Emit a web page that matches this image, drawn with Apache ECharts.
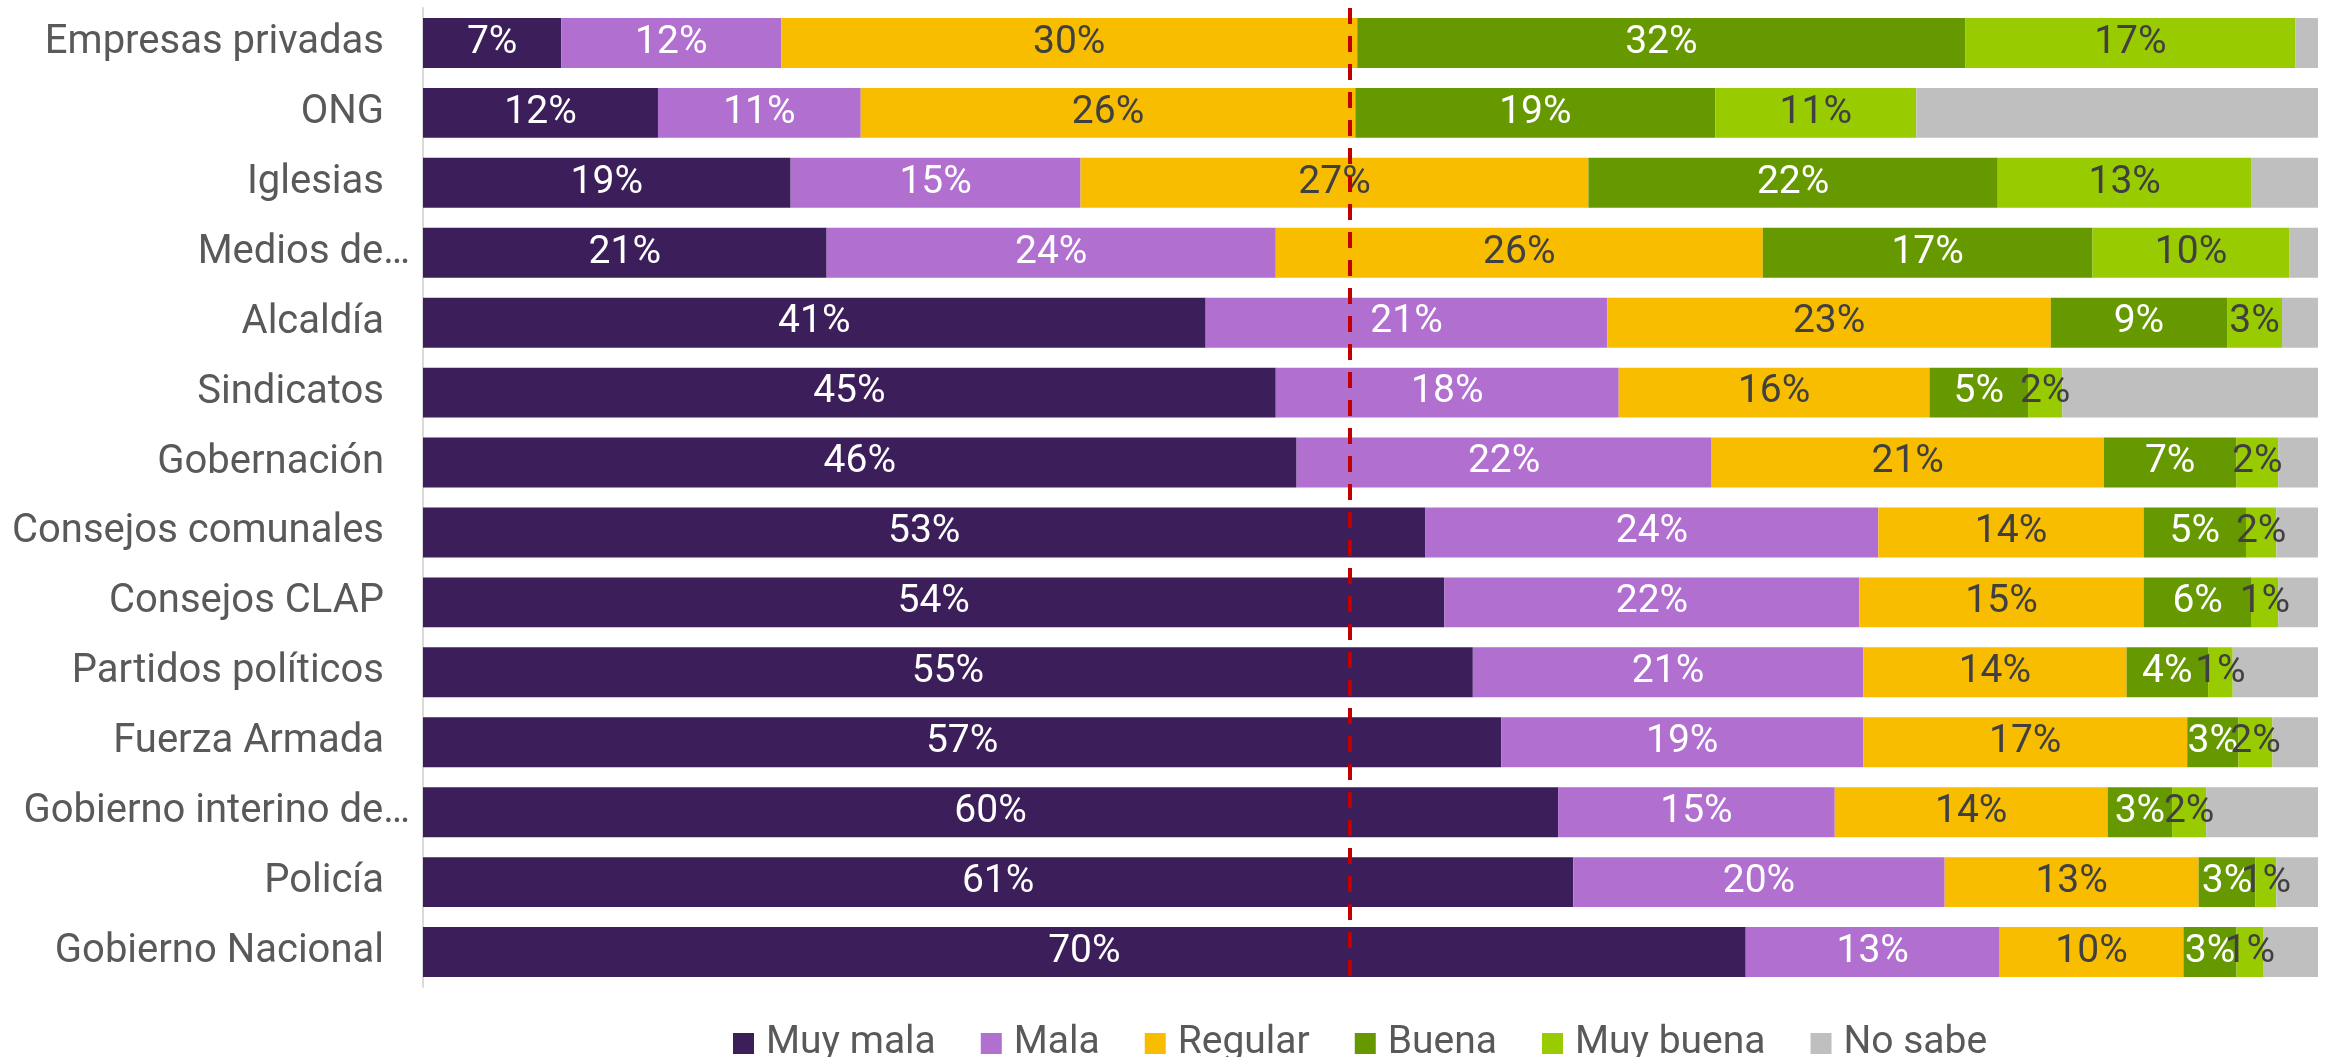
<!DOCTYPE html>
<html>
<head>
<meta charset="utf-8">
<title>Evaluación de instituciones</title>
<script src="https://cdn.jsdelivr.net/npm/echarts@6/dist/echarts.min.js"></script>
<style>
  html, body { margin: 0; padding: 0; background: #fff; }
  #chart { width: 2325px; height: 1057px; }
</style>
</head>
<body>
<div id="chart"></div>
<script>
// categorías, de arriba hacia abajo
const categories = [
    'Empresas privadas', 'ONG', 'Iglesias', 'Medios de…', 'Alcaldía', 'Sindicatos', 'Gobernación',
    'Consejos comunales', 'Consejos CLAP', 'Partidos políticos', 'Fuerza Armada',
    'Gobierno interino de…', 'Policía', 'Gobierno Nacional',
];
const seriesNames = ['Muy mala', 'Mala', 'Regular', 'Buena', 'Muy buena', 'No sabe'];

const muyMala = [7.3, 12.4, 19.4, 21.3, 41.3, 45.0, 46.1, 52.9, 53.9, 55.4, 56.9, 59.9, 60.7, 69.8];
const mala = [11.6, 10.7, 15.3, 23.7, 21.2, 18.1, 21.9, 23.9, 21.9, 20.6, 19.1, 14.6, 19.6, 13.4];
const regular = [30.4, 26.1, 26.8, 25.7, 23.4, 16.4, 20.7, 14.0, 15.0, 13.9, 17.1, 14.4, 13.4, 9.7];
const buena = [32.1, 19.0, 21.6, 17.4, 9.3, 5.2, 7.0, 5.4, 5.7, 4.3, 2.7, 3.4, 3.0, 2.8];
const muyBuena = [17.4, 10.6, 13.4, 10.4, 2.9, 1.8, 2.2, 1.6, 1.4, 1.3, 1.8, 1.8, 1.1, 1.4];
const noSabe = [1.2, 21.2, 3.5, 1.5, 1.9, 13.5, 2.1, 2.2, 2.1, 4.5, 2.4, 5.9, 2.2, 2.9];

// línea de referencia (punteada roja)
const referenceValue = 48.9;

const colors = ['#3C1F5A', '#B16FD0', '#F9BD00', '#669900', '#99CC00', '#BFBFBF'];
const labelColors = ['#FFFFFF', '#FFFFFF', '#404040', '#FFFFFF', '#404040', '#404040'];
const values = [muyMala, mala, regular, buena, muyBuena, noSabe];

const FONT = 'Roboto, "Noto Sans", sans-serif';

const chartDom = document.getElementById('chart');
const myChart = echarts.init(chartDom);

const series = seriesNames.map((name, i) => {
    const item = {
        name,
        type: 'bar',
        stack: 'total',
        barCategoryGap: '28.6%',
        itemStyle: {
            color: colors[i],
        },
        label: {
            show: name !== 'No sabe',
            position: 'inside',
            color: labelColors[i],
            fontFamily: FONT,
            fontSize: 39,
            formatter: p => `${Math.round(p.value)}%`,
        },
        data: values[i],
    };
    if (i === 0) {
        item.markLine = {
            silent: true,
            symbol: 'none',
            label: { show: false },
            lineStyle: {
                color: '#C00000',
                width: 4,
                type: [16, 12],
            },
            data: [{ xAxis: referenceValue }],
        };
    }
    return item;
});

const option = {
    backgroundColor: '#fff',
    animation: false,
    grid: {
        left: 423,
        right: 7,
        top: 8,
        bottom: 70,
    },
    legend: {
        left: 728,
        top: 1019,
        icon: 'rect',
        itemWidth: 21,
        itemHeight: 21,
        itemGap: 45,
        textStyle: {
            fontFamily: FONT,
            fontSize: 39,
            color: '#595959',
            padding: [0, 0, 0, 7],
        },
        data: seriesNames,
    },
    xAxis: {
        type: 'value',
        min: 0,
        max: 100,
        show: false,
    },
    yAxis: {
        type: 'category',
        inverse: true,
        data: categories,
        axisTick: { show: false },
        axisLine: {
            show: true,
            lineStyle: { color: '#DADADA', width: 2 },
        },
        axisLabel: {
            margin: 13,
            fontFamily: FONT,
            fontSize: 40,
            color: '#595959',
            formatter: v => (v.endsWith('…') ? `{e|${v}}` : `{n|${v}}`),
            rich: {
                n: {
                    fontFamily: FONT,
                    fontSize: 40,
                    color: '#595959',
                    padding: [0, 26, 0, 0],
                },
                e: {
                    fontFamily: FONT,
                    fontSize: 40,
                    color: '#595959',
                },
            },
        },
    },
    series,
};

myChart.setOption(option);
window.addEventListener('resize', () => {
    myChart.resize();
});
</script>
</body>
</html>
